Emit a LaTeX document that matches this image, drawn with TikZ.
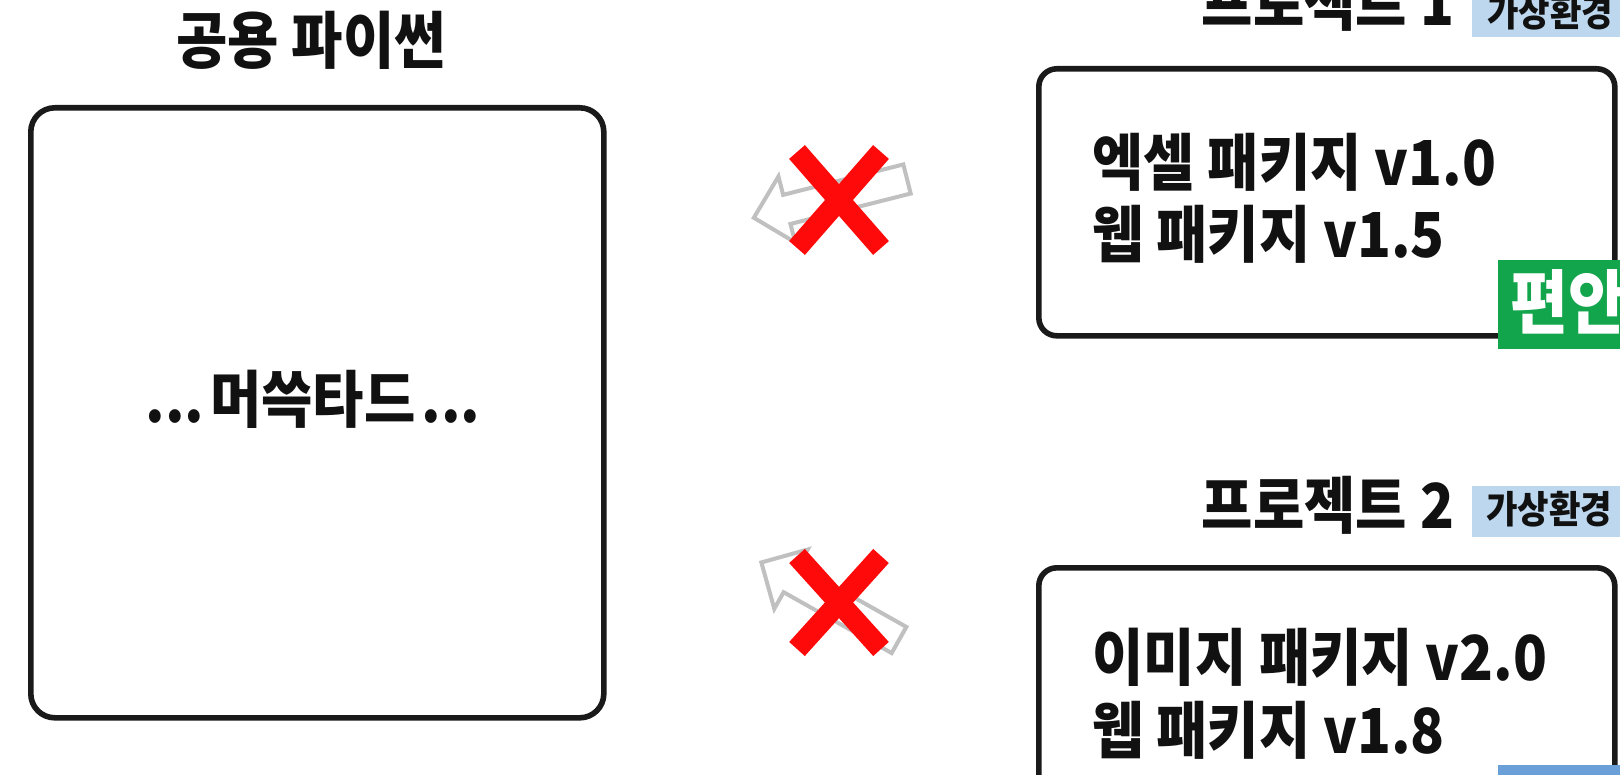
\documentclass[tikz,border=0pt]{standalone}
\usepackage{fontspec}
\setmainfont{Noto Sans CJK KR}
\newfontfamily\krnarrow{Noto Sans CJK KR}[FakeStretch=0.9]
\definecolor{boxline}{HTML}{1A1A1A}
\definecolor{lightbadge}{HTML}{BDD7EE}
\definecolor{midbadge}{HTML}{6A9FD8}
\definecolor{greenbadge}{HTML}{13A54B}
\definecolor{arrowgray}{HTML}{C0C0C0}
\definecolor{xred}{HTML}{FF0A0A}
\definecolor{inkblack}{HTML}{111111}
\tikzset{
  bigtext/.style={font=\krnarrow\bfseries\fontsize{31}{36}\selectfont, inner sep=0pt, text=inkblack},
  badgetext/.style={font=\krnarrow\bfseries\fontsize{19}{22}\selectfont, inner sep=0pt, text=inkblack},
  greentext/.style={font=\krnarrow\bfseries\fontsize{35}{40}\selectfont, inner sep=0pt, text=white},
  frame/.style={draw=boxline, line width=2.8pt, rounded corners=12pt, inner sep=0pt, anchor=north west},
  smallframe/.style={frame, rounded corners=9pt},
  badgebox/.style={inner sep=0pt, anchor=north west, draw=none},
  hollowarrow/.style={draw=arrowgray, line width=2pt, fill=white, line join=miter},
  xbar/.style={draw=xred, line width=10.5pt}
}
\begin{document}
\begin{tikzpicture}[x=0.5pt,y=-0.5pt]
\useasboundingbox (0,0) rectangle (1620,775);
\clip (0,0) rectangle (1620,775);
\fill[white] (0,0) rectangle (1620,775);

% shared python
\node[bigtext] (sharedtitle) at (311,40) {공용 파이썬};
\node[frame, minimum width=286.5pt, minimum height=305pt] (shared) at (28,105) {};
\node[bigtext] (mustard) at (313,399) {...\hspace{3pt}머쓱타드\hspace{3pt}...};

% project 1
\node[bigtext] (p1title) at (1328,2) {프로젝트 1};
\node[badgebox, fill=lightbadge, minimum width=74pt, minimum height=25.5pt] (p1badge) at (1472,-14) {};
\node[badgetext, anchor=west] (p1badgetxt) at (1487,12) {가상환경};
\node[smallframe, minimum width=288pt, minimum height=133.5pt] (p1box) at (1036,66) {};
\node[bigtext, anchor=west] (p1a) at (1092,162) {엑셀 패키지 v1.0};
\node[bigtext, anchor=west] (p1b) at (1092,234) {웹 패키지 v1.5};
\node[badgebox, fill=greenbadge, minimum width=61pt, minimum height=44.5pt] (comfy) at (1498,260) {};
\node[greentext, anchor=west] (comfytxt) at (1510,302) {편안};

% project 2
\node[bigtext] (p2title) at (1328,505) {프로젝트 2};
\node[badgebox, fill=lightbadge, minimum width=74pt, minimum height=25.5pt] (p2badge) at (1472,486) {};
\node[badgetext, anchor=west] (p2badgetxt) at (1486,509) {가상환경};
\node[smallframe, minimum width=288pt, minimum height=170pt] (p2box) at (1036,565) {};
\node[bigtext, anchor=west] (p2a) at (1092,657) {이미지 패키지 v2.0};
\node[bigtext, anchor=west] (p2b) at (1092,730) {웹 패키지 v1.8};
\node[badgebox, fill=midbadge, minimum width=61pt, minimum height=44.5pt] (p2tag) at (1498,765) {};

% crossed-out arrows
\begin{scope}[shift={(907,179)}, rotate=194.2]
  \draw[hollowarrow] (0,-15) -- (124,-15) -- (124,-34) -- (158,0) -- (124,34) -- (124,15) -- (0,15) -- cycle;
\end{scope}
\draw[xbar] (797,152) -- (881,248);
\draw[xbar] (881,152) -- (797,248);

\begin{scope}[shift={(899,640)}, rotate=150.6]
  \draw[hollowarrow] (0,-15) -- (124,-15) -- (124,-34) -- (158,0) -- (124,34) -- (124,15) -- (0,15) -- cycle;
\end{scope}
\draw[xbar] (797,556) -- (881,649);
\draw[xbar] (881,556) -- (797,649);
\end{tikzpicture}
\end{document}
